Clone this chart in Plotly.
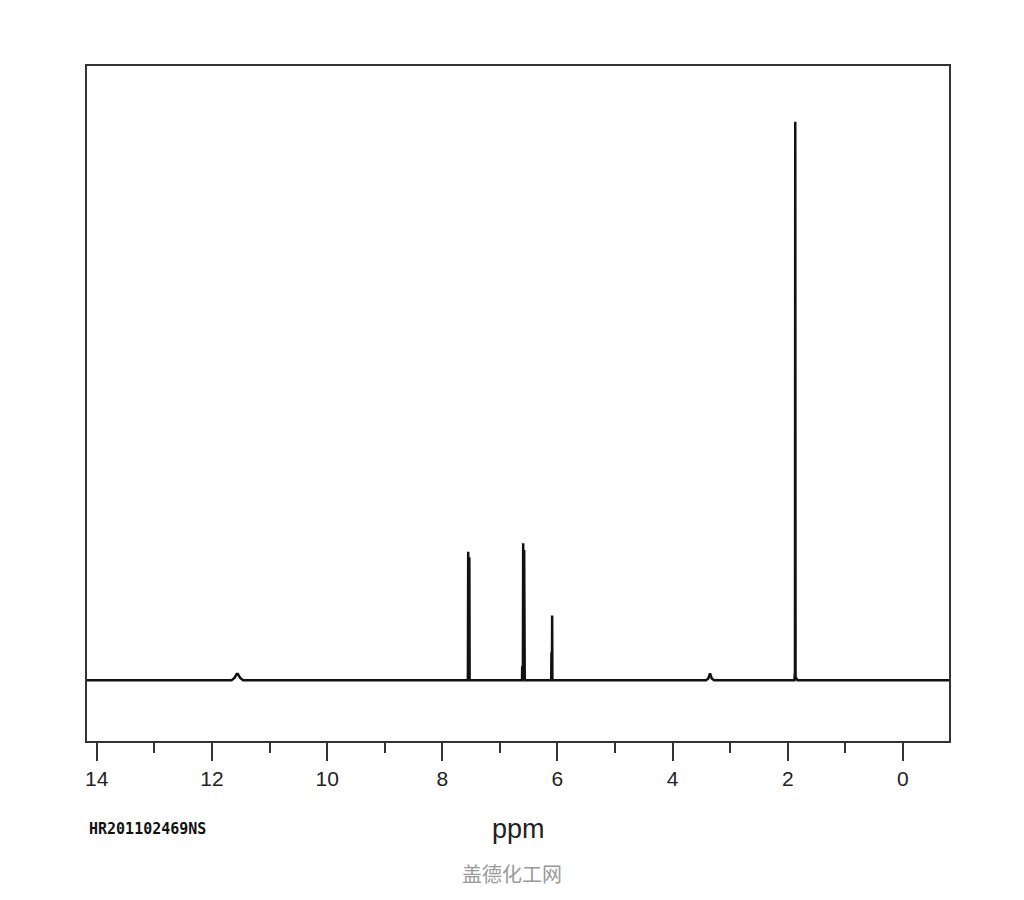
import plotly.graph_objects as go

# 1H NMR spectrum (chemical shift in ppm, relative intensity)
spec_ppm = [14.17, 11.66, 11.61, 11.57, 11.55, 11.51, 11.46,
            7.58, 7.555, 7.550, 7.545, 7.535, 7.530, 7.525, 7.50,
            6.64, 6.615, 6.612, 6.608, 6.600, 6.595, 6.590, 6.585, 6.578, 6.573, 6.568, 6.55,
            6.13, 6.108, 6.104, 6.100, 6.096, 6.092, 6.088, 6.07,
            3.42, 3.38, 3.35, 3.32, 3.28,
            1.93, 1.885, 1.875, 1.870, 1.865, 1.855, 1.83, 1.79, -0.80]
spec_int = [0.0, 0.0, 0.4, 1.1, 1.1, 0.4, 0.0,
            0.0, 0.0, 23.0, 0.0, 0.0, 22.0, 0.0, 0.0,
            0.0, 0.0, 2.5, 0.0, 0.0, 24.5, 0.0, 0.0, 23.3, 0.0, 0.0, 0.0,
            0.0, 0.0, 5.0, 0.0, 0.0, 11.6, 0.0, 0.0,
            0.0, 0.3, 1.2, 0.3, 0.0,
            0.0, 0.0, 1.5, 100.0, 0.0, 0.4, 0.0, 0.0, 0.0]

x_ticks = [14, 12, 10, 8, 6, 4, 2, 0]
x_range = [14.17, -0.80]
y_range = [-10.9, 110.0]

sample_id = "HR201102469NS"
x_title = "ppm"
watermark = "盖德化工网"

fig = go.Figure()
fig.add_trace(go.Scatter(x=spec_ppm, y=spec_int, mode="lines",
                         line=dict(color="#111111", width=2.5),
                         hoverinfo="skip", showlegend=False))

fig.update_layout(
    width=1024, height=900,
    margin=dict(l=79, r=83, t=58, b=167),
    paper_bgcolor="white", plot_bgcolor="white",
    showlegend=False,
    xaxis=dict(range=x_range, showgrid=False, zeroline=False,
               showline=True, mirror=True, linecolor="#333333", linewidth=2,
               ticks="outside", ticklen=18, tickwidth=2, tickcolor="#333333",
               tickvals=x_ticks, ticktext=[str(v) for v in x_ticks],
               tickfont=dict(family="Liberation Sans, Arial", size=21, color="#222222"),
               minor=dict(dtick=1, tick0=1, ticks="outside", ticklen=10, tickwidth=2,
                          tickcolor="#333333", showgrid=False)),
    yaxis=dict(range=y_range, showgrid=False, zeroline=False,
               showline=True, mirror=True, linecolor="#333333", linewidth=2,
               ticks="", showticklabels=False),
    annotations=[
        dict(text="<b>" + sample_id + "</b>", xref="paper", yref="paper", x=0.0, y=-0.13,
             xanchor="left", yanchor="middle", showarrow=False,
             font=dict(family="DejaVu Sans Mono, Liberation Mono, monospace", size=15, color="#111111")),
        dict(text=x_title, xref="paper", yref="paper", x=0.5, y=-0.13,
             xanchor="center", yanchor="middle", showarrow=False,
             font=dict(family="Liberation Sans Narrow, Liberation Sans, Arial", size=27, color="#222222")),
        dict(text=watermark, xref="paper", yref="paper", x=0.493, y=-0.196,
             xanchor="center", yanchor="middle", showarrow=False,
             font=dict(family="Noto Sans CJK SC", size=20, color="#999999")),
    ],
)

fig.write_html("out.html")
